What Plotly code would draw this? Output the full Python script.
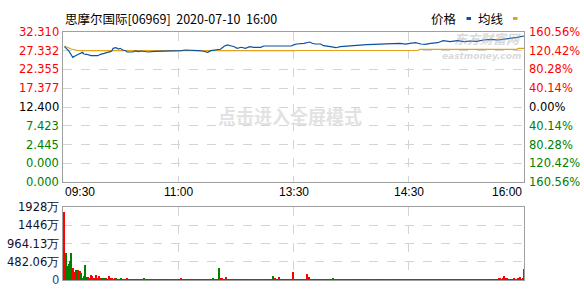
import plotly.graph_objects as go

# ---------------- DATA ----------------
title_text = "思摩尔国际[06969]  2020-07-10  16:00"
prev_close = 12.40

price_minutes = [0, 3, 5, 6, 8, 10, 11, 13, 14, 16, 19, 24, 26, 28, 30, 31, 33, 34, 35, 37,
                 39, 40, 42, 44, 45, 49, 51, 53, 55, 60, 65, 69, 74, 80, 84, 87, 92, 96, 99, 103,
                 105, 109, 112, 115, 117, 120, 122, 124, 127, 130, 133, 136, 141, 143, 148, 151, 155, 160, 163, 165,
                 167, 172, 176, 178, 180, 184, 186, 191, 195, 198, 203, 208, 213, 217, 222, 227, 232, 236, 241, 245,
                 248, 252, 256, 259, 263, 268, 272, 277, 282, 287, 291, 296, 301, 306, 311, 315, 320, 325, 330]
price_values = [28.42, 27.35, 26.20, 25.58, 26.02, 26.39, 26.47, 26.92, 26.47, 26.39, 26.02, 26.02, 26.39, 26.65, 26.82, 26.92, 27.08, 27.27, 27.98, 28.14,
                27.80, 27.98, 27.53, 27.35, 27.00, 27.00, 27.27, 27.08, 27.27, 27.00, 27.18, 27.18, 27.35, 27.27, 27.35, 27.53, 27.53, 27.35, 27.27, 26.92,
                27.35, 27.53, 27.72, 28.59, 28.86, 28.59, 28.41, 27.98, 28.25, 27.98, 28.41, 28.25, 28.25, 28.59, 28.59, 28.41, 28.41, 28.41, 28.59, 28.94,
                29.12, 29.31, 29.65, 29.31, 29.12, 29.12, 28.67, 28.41, 28.14, 28.41, 28.59, 28.59, 28.77, 28.94, 29.04, 29.04, 29.12, 29.21, 29.31, 29.12,
                29.31, 29.47, 29.12, 29.04, 29.31, 29.47, 30.00, 29.74, 30.00, 29.74, 29.92, 29.84, 30.19, 30.37, 30.19, 30.37, 30.64, 30.90, 31.25]

avg_minutes = [0, 5, 9, 14, 165, 166, 254, 255, 325, 326, 330]
avg_values = [28.59, 27.80, 27.45, 27.34, 27.34, 27.40, 27.40, 27.70, 27.70, 27.95, 27.95]

# volume per minute (万股), and bar direction (R = up, G = down)
volume = [
    1803, 705, 370, 420, 500, 705, 310, 220, 264, 160, 264, 240, 190, 60, 110, 400, 70, 90, 50, 130,
    110, 50, 40, 130, 40, 110, 60, 20, 30, 30, 30, 20, 110, 40, 40, 20, 40, 30, 20,
    25, 18, 30, 22, 15, 20, 28, 17, 24, 19, 21, 16, 26, 14, 18, 23, 20, 15, 27, 19,
    22, 17, 13, 25, 18, 20, 16, 24, 21, 15, 19, 26, 17, 22, 14, 20, 18, 23, 16, 21,
    25, 15, 19, 22, 17, 28, 20, 16, 24, 18, 14, 21, 19, 26, 17, 23, 15, 20, 18, 22,
    16, 24, 19, 21, 17, 25, 20, 18, 30, 22, 19, 23,
    325, 30, 60, 20, 25, 90,
    20, 18, 24, 16, 22, 19, 25, 17, 21, 15, 23, 18, 20, 26, 17, 19, 22, 16, 24, 18,
    21, 15, 20, 23, 17, 19, 25, 18, 22, 16, 20, 24, 18,
    105, 30, 20, 25, 80,
    22, 18, 25, 17, 20, 19, 24, 16, 21,
    220,
    20, 25, 18, 22, 17, 24, 19, 21, 26,
    170, 40, 90,
    20, 18, 24, 17, 22, 19, 25, 16, 21, 23, 18, 20, 15, 24, 19, 22,
    60,
    18, 22, 16, 24, 19, 21, 17, 25, 20, 15, 23, 18, 21, 26, 17, 19, 22, 16, 24, 20,
    18, 25, 15, 21, 19, 23, 17, 20, 22, 16, 24, 18, 21, 19, 26, 17, 22, 15, 20, 23,
    18, 24, 16, 21, 19, 25, 17, 22, 20, 18, 23, 15, 21, 19, 24, 17, 20, 22, 16, 25,
    19, 21, 18, 23, 17, 26, 20, 15, 22, 19, 24, 18, 21, 16, 23, 20, 17, 25, 19, 22,
    18, 24, 15, 21, 20, 23, 17, 19, 26, 18, 22, 16, 24, 20, 19, 25, 17, 21, 18, 23,
    20, 16, 22, 19, 24, 18, 21, 17, 25, 20, 19, 23, 18, 22, 16, 24, 21, 19, 28,
    60, 25, 35, 105, 30, 60, 25, 20, 25, 20, 30, 20, 25, 30, 90, 20, 35, 290,
]
direction = (
    "RGGGGGRRGGRRGGGGGGRRRGRRRRRGGGRRRRRRRGG"
    "GGGRRRRGGGRRRRRGGGGRRRRRGGGRRRRGGGGGRRRRGGGRRRRRGGGGRRRRGGGRRRRRRGGGGRRR"
    "GRRGRR"
    "RRRRGGGRRRRRGGGRRRRRGGGRRRRRGGGRR"
    "GRGRR"
    "RRRGGGRRR"
    "R"
    "RRGGGRRRR"
    "RRR"
    "RRGGGRRRRGGRRRRR"
    "G"
    "RRRRRGGGRRRRRGGGR"
    "RRRRRGGGGRRRRRRGG"
    "GRRRRRRRGGGRRRRRR"
    "GGGRRRRRRRGGRRRRR"
    "RRGGGRRRRRRRRGGGR"
    "RRRRRRGGRRRRRRRRG"
    "GRRRRRRRRRGGGRRRR"
    "RRRRGRRGGGRRRRRRRR"
)
direction = direction[:len(volume)].ljust(len(volume), "R")

price_tick_vals = [32.310, 27.332, 22.355, 17.377, 12.400, 7.423, 2.445, -2.533, -7.510]
price_tick_text = ["32.310", "27.332", "22.355", "17.377", "12.400", "7.423", "2.445", "0.000", "0.000"]
pct_tick_text = ["160.56%", "120.42%", "80.28%", "40.14%", "0.00%", "40.14%", "80.28%", "120.42%", "160.56%"]

vol_tick_vals = [1928, 1446, 964.13, 482.06, 0]
vol_tick_text = ["1928万", "1446万", "964.13万", "482.06万", "0"]

time_labels = ["09:30", "11:00", "13:30", "14:30", "16:00"]

# ---------------- STYLE / LAYOUT ----------------
W, H = 584, 293
X0, X1 = 63, 524
PY0, PY1 = 32, 182
VY0, VY1 = 207, 280
XR = [-1, 330]

def fx(px):
    return px / W

def fy(py):
    return 1 - py / H

RED = "#ff0000"
GREEN = "#008000"
BLUE = "#0b52a3"
GOLD = "#e3a21a"
label_colors = [RED, RED, RED, RED, "#000000", GREEN, GREEN, GREEN, GREEN]
NUM_FONT = "DejaVu Sans"
CJK_FONT = "Noto Sans CJK SC"

quarters = [XR[0] + (XR[1] - XR[0]) * k / 4 for k in range(5)]

fig = go.Figure()

fig.add_trace(go.Scatter(x=avg_minutes, y=avg_values, mode="lines",
                         line=dict(color=GOLD, width=1.2), xaxis="x", yaxis="y",
                         hoverinfo="skip"))
fig.add_trace(go.Scatter(x=price_minutes, y=price_values, mode="lines",
                         line=dict(color=BLUE, width=1.2), xaxis="x", yaxis="y",
                         hoverinfo="skip"))
fig.add_trace(go.Bar(x=list(range(len(volume))), y=volume,
                     marker=dict(color=[RED if d == "R" else GREEN for d in direction],
                                 line=dict(width=0)),
                     width=0.75, xaxis="x2", yaxis="y2", hoverinfo="skip"))

axis_common = dict(showline=True, mirror=True, linecolor="#a0a0a0", linewidth=1,
                   showgrid=True, gridcolor="#d4d4d4", griddash="dash", gridwidth=1,
                   zeroline=False, showticklabels=False, ticks="", fixedrange=True)

fig.update_layout(
    width=W, height=H,
    margin=dict(l=0, r=0, t=0, b=0),
    paper_bgcolor="white", plot_bgcolor="white",
    showlegend=False,
    bargap=0,
    xaxis=dict(domain=[fx(X0), fx(X1)], range=XR, tickvals=quarters, anchor="y", **axis_common),
    yaxis=dict(domain=[fy(PY1), fy(PY0)], range=[price_tick_vals[-1], price_tick_vals[0]],
               tickvals=price_tick_vals, anchor="x", **axis_common),
    xaxis2=dict(domain=[fx(X0), fx(X1)], range=XR, tickvals=quarters, anchor="y2", **axis_common),
    yaxis2=dict(domain=[fy(VY1), fy(VY0)], range=[0, vol_tick_vals[0]],
                tickvals=vol_tick_vals, anchor="x2", **axis_common),
)

ann = []
# title
ann.append(dict(text=title_text, x=fx(X0), y=fy(18), xref="paper", yref="paper",
                xanchor="left", yanchor="middle", showarrow=False,
                font=dict(family=CJK_FONT, size=12.5, color="#000000")))
# legend
ann.append(dict(text="价格", x=fx(459), y=fy(18), xref="paper", yref="paper",
                xanchor="right", yanchor="middle", showarrow=False,
                font=dict(family=CJK_FONT, size=12.5, color="#000000")))
ann.append(dict(text="均线", x=fx(506), y=fy(18), xref="paper", yref="paper",
                xanchor="right", yanchor="middle", showarrow=False,
                font=dict(family=CJK_FONT, size=12.5, color="#000000")))
shapes = [
    dict(type="rect", xref="paper", yref="paper", x0=fx(466.5), x1=fx(471), y0=fy(20), y1=fy(17),
         fillcolor=BLUE, line=dict(width=0)),
    dict(type="rect", xref="paper", yref="paper", x0=fx(513), x1=fx(517.5), y0=fy(20), y1=fy(17),
         fillcolor=GOLD, line=dict(width=0)),
]

# left/right price labels
for v, t, p, c in zip(price_tick_vals, price_tick_text, pct_tick_text, label_colors):
    ann.append(dict(text=t, x=fx(61), y=v, xref="paper", yref="y", xanchor="right",
                    yanchor="middle", showarrow=False,
                    font=dict(family=NUM_FONT, size=11.5, color=c)))
    ann.append(dict(text=p, x=fx(527), y=v, xref="paper", yref="y", xanchor="left",
                    yanchor="middle", showarrow=False,
                    font=dict(family=NUM_FONT, size=11.5, color=c)))

# volume labels
for v, t in zip(vol_tick_vals, vol_tick_text):
    ann.append(dict(text=t, x=fx(61), y=v, xref="paper", yref="y2", xanchor="right",
                    yanchor="middle", showarrow=False,
                    font=dict(family=NUM_FONT, size=11.5,
                              color="#1c3f94" if t == "0" else "#101030")))

# time labels
anchors = ["left", "center", "center", "center", "right"]
for q, t, a in zip(quarters, time_labels, anchors):
    ann.append(dict(text=t, x=q, y=fy(192), xref="x", yref="paper", xanchor=a,
                    yanchor="middle", showarrow=False,
                    font=dict(family="Liberation Sans", size=12, color="#000000")))

# watermarks
ann.append(dict(text="<b>点击进入全屏模式</b>", x=fx(290), y=fy(116), xref="paper", yref="paper",
                xanchor="center", yanchor="middle", showarrow=False,
                font=dict(family=CJK_FONT, size=18, color="#e2e2e2")))
ann.append(dict(text="<b><i>东方财富网</i></b>", x=fx(523), y=fy(39), xref="paper", yref="paper",
                xanchor="right", yanchor="middle", showarrow=False,
                font=dict(family=CJK_FONT, size=13, color="rgba(170,170,170,0.45)")))
ann.append(dict(text="<b><i>eastmoney.com</i></b>", x=fx(523), y=fy(56), xref="paper", yref="paper",
                xanchor="right", yanchor="middle", showarrow=False,
                font=dict(family=NUM_FONT, size=9, color="rgba(170,170,170,0.45)")))

fig.update_layout(annotations=ann, shapes=shapes)

fig.write_html("out.html")
